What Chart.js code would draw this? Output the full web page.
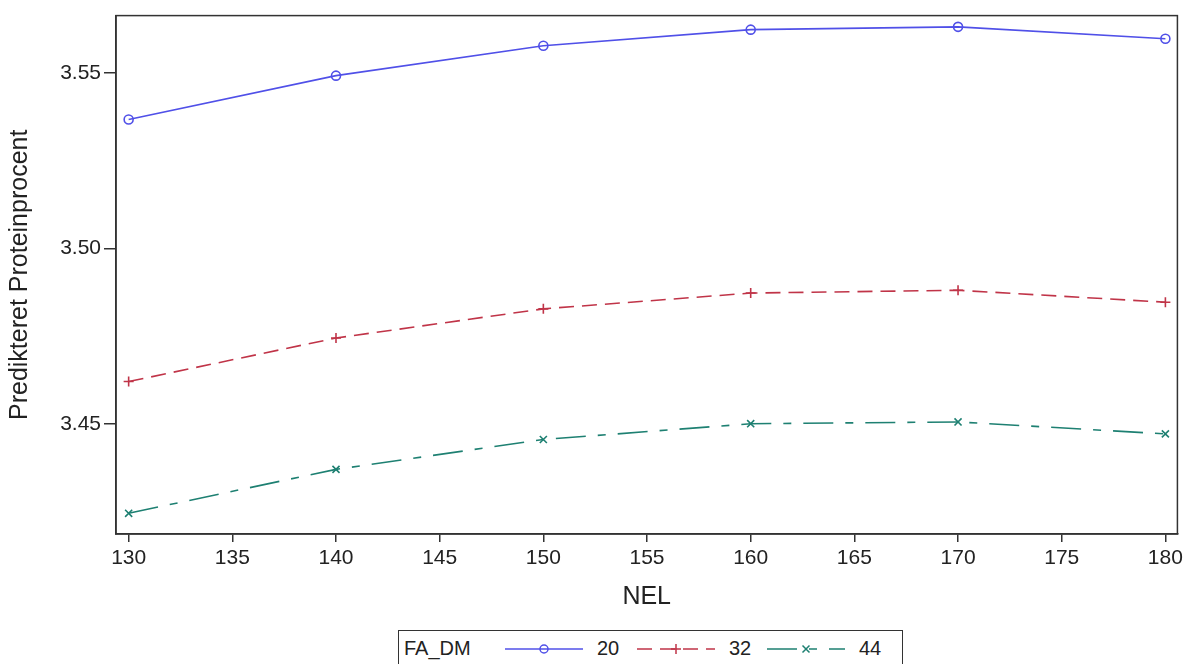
<!DOCTYPE html>
<html>
<head>
<meta charset="utf-8">
<script src="https://cdn.jsdelivr.net/npm/chart.js@4.4.1/dist/chart.umd.min.js"></script>
<style>
    body { margin: 0; background: #fff; font-family: "Liberation Sans", Arial, sans-serif; }
    #wrap { position: relative; width: 1187px; height: 664px; overflow: hidden; }
    #chartBox { position: absolute; left: 0; top: 0; width: 1187px; height: 622px; }
    #legend {
        position: absolute; left: 398px; top: 630px; width: 505px; height: 36px;
        border: 1px solid #333; box-sizing: border-box;
        font-size: 20px; color: #222; white-space: nowrap;
    }
    #legend span { position: absolute; top: 6px; }
    #legend svg { position: absolute; top: 8px; }
</style>
</head>
<body>
<div id="wrap">
    <div id="chartBox"><canvas id="chart"></canvas></div>
    <div id="legend"></div>
</div>
<script>
// Data
const nel = [130, 140, 150, 160, 170, 180];
const seriesNames = ['20', '32', '44'];
const fa20 = [3.5367, 3.5492, 3.5577, 3.5623, 3.5631, 3.5597];
const fa32 = [3.4621, 3.4745, 3.4828, 3.4873, 3.4881, 3.4847];
const fa44 = [3.4246, 3.4371, 3.4456, 3.4501, 3.4506, 3.4472];
const xTicks = [130, 135, 140, 145, 150, 155, 160, 165, 170, 175, 180];
const yTicks = [3.45, 3.50, 3.55];

const colors = ['rgb(80, 80, 232)', 'rgb(192, 52, 72)', 'rgb(30, 128, 114)'];
const dashes = [[], [15, 8], [30, 12, 8, 12]];
const markers = ['circle', 'cross', 'crossRot'];
const values = [fa20, fa32, fa44];

const fontFamily = '"Liberation Sans", Arial, sans-serif';
const textColor = '#222';

// Full frame round the plot area
const frame = {
    id: 'frame',
    afterDraw(chart) {
        const a = chart.chartArea;
        const ctx = chart.ctx;
        ctx.save();
        ctx.strokeStyle = '#333';
        ctx.lineWidth = 1.5;
        ctx.strokeRect(a.left, a.top, a.right - a.left, a.bottom - a.top);
        ctx.restore();
    }
};

const datasets = values.map((vals, i) => ({
    label: seriesNames[i],
    data: nel.map((x, j) => ({ x: x, y: vals[j] })),
    borderColor: colors[i],
    backgroundColor: 'transparent',
    borderWidth: 1.6,
    borderDash: dashes[i],
    pointStyle: markers[i],
    pointRadius: i === 0 ? 4.5 : 5,
    pointBorderColor: colors[i],
    pointBackgroundColor: 'rgba(255,255,255,0)',
    pointBorderWidth: 1.6,
    tension: 0
}));

new Chart(document.getElementById('chart'), {
    type: 'line',
    data: { datasets: datasets },
    options: {
        responsive: true,
        maintainAspectRatio: false,
        animation: false,
        layout: { padding: { top: 14, right: 8, left: 0, bottom: 0 } },
        plugins: {
            legend: { display: false },
            tooltip: { enabled: false }
        },
        scales: {
            x: {
                type: 'linear',
                min: 129.39,
                max: 180.58,
                afterBuildTicks: scale => { scale.ticks = xTicks.map(v => ({ value: v })); },
                afterFit: scale => { scale.height = 88; },
                grid: { drawOnChartArea: false, drawTicks: true, tickLength: 8, color: '#333', lineWidth: 1.5 },
                border: { display: true, color: '#333', width: 1.5 },
                ticks: { color: textColor, padding: 4, font: { family: fontFamily, size: 21 }, maxRotation: 0 },
                title: { display: true, text: 'NEL', color: textColor, padding: { top: 0, bottom: 9.5 }, font: { family: fontFamily, size: 25 } }
            },
            y: {
                type: 'linear',
                min: 3.4187,
                max: 3.5663,
                afterBuildTicks: scale => { scale.ticks = yTicks.map(v => ({ value: v })); },
                afterFit: scale => { scale.width = 116; },
                grid: { drawOnChartArea: false, drawTicks: true, tickLength: 12, color: '#333', lineWidth: 1.5 },
                border: { display: true, color: '#333', width: 1.5 },
                ticks: { color: textColor, padding: 3, font: { family: fontFamily, size: 21 }, callback: v => v.toFixed(2) },
                title: { display: true, text: 'Predikteret Proteinprocent', color: textColor, padding: { top: 5, bottom: 0 }, font: { family: fontFamily, size: 25 } }
            }
        }
    },
    plugins: [frame]
});

// Legend drawn as HTML below the chart
const legend = document.getElementById('legend');
let html = '<span style="left:5px">FA_DM</span>';
const sampleLeft = [106, 238, 368];
values.forEach((vals, i) => {
    const x0 = sampleLeft[i];
    const dash = dashes[i].join(' ');
    let mark = '';
    if (markers[i] === 'circle') {
        mark = '<circle cx="39" cy="10" r="4" fill="none" stroke="' + colors[i] + '" stroke-width="1.5"/>';
    } else if (markers[i] === 'cross') {
        mark = '<path d="M34 10 H44 M39 5 V15" stroke="' + colors[i] + '" stroke-width="1.5"/>';
    } else {
        mark = '<path d="M35.5 6.5 L42.5 13.5 M42.5 6.5 L35.5 13.5" stroke="' + colors[i] + '" stroke-width="1.5"/>';
    }
    html += '<svg width="78" height="20" style="left:' + x0 + 'px">' +
        '<line x1="0" y1="10" x2="78" y2="10" stroke="' + colors[i] + '" stroke-width="1.5" stroke-dasharray="' + dash + '"/>' +
        mark + '</svg>';
    html += '<span style="left:' + (x0 + 92) + 'px">' + seriesNames[i] + '</span>';
});
legend.innerHTML = html;
</script>
</body>
</html>
